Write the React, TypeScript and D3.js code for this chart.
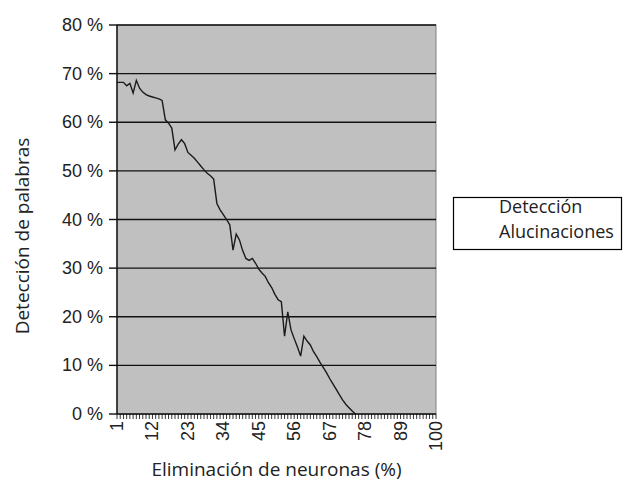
import * as d3 from "d3"

// x categories (percent of neurons removed) and the labelled ones
const categories: number[] = d3.range(1, 101)
const labeledCategories = [1, 12, 23, 34, 45, 56, 67, 78, 89, 100]

// word detection (%) for categories 1..75
const deteccion = [
  68.2, 68.2, 68.2, 67.5, 68.0, 66.0, 68.6, 67.0, 66.2, 65.7,
  65.4, 65.2, 65.0, 64.8, 64.5, 60.5, 59.8, 58.8, 54.3, 55.5,
  56.4, 55.6, 53.8, 53.2, 52.6, 51.8, 51.0, 50.2, 49.5, 49.0,
  48.3, 43.3, 42.0, 41.0, 40.0, 38.9, 33.7, 37.0, 35.8, 33.6,
  32.0, 31.6, 32.0, 31.0, 29.8, 29.0, 28.3, 27.0, 26.0, 24.6,
  23.5, 23.1, 16.0, 21.0, 17.3, 15.5, 13.8, 11.9, 16.0, 15.0,
  14.2, 12.8, 11.8, 10.6, 9.6, 8.5, 7.3, 6.2, 5.1, 4.0,
  2.9, 2.0, 1.3, 0.6, 0.0,
]

const yTicks = [0, 10, 20, 30, 40, 50, 60, 70, 80]
const legendItems = ["Detección", "Alucinaciones"]

const W = 629
const H = 497
const margin = { top: 25, right: 193, bottom: 83, left: 117 }

const tickFont = "'Liberation Sans', Arial, sans-serif"
const titleFont = "'Open Sans', sans-serif"

export default function App() {
  const x = d3
    .scalePoint<number>()
    .domain(categories)
    .range([margin.left, W - margin.right])
  const y = d3
    .scaleLinear()
    .domain([0, 80])
    .range([H - margin.bottom, margin.top])

  const line = d3
    .line<number>()
    .x((_, i) => x(categories[i]) ?? 0)
    .y((d) => y(d))

  const x0 = margin.left
  const x1 = W - margin.right
  const y0 = H - margin.bottom
  const y1 = margin.top

  return (
    <svg
      width={W}
      height={H}
      style={{ position: "absolute", left: 0, top: 0, background: "#fff" }}
    >
      {/* plot area */}
      <rect x={x0} y={y1} width={x1 - x0} height={y0 - y1} fill="#c0c0c0" stroke="#808080" />

      {/* gridlines */}
      {yTicks
        .filter((t) => t > 0)
        .map((t) => (
          <line key={t} x1={x0} x2={x1} y1={y(t)} y2={y(t)} stroke="#111" strokeWidth={1.4} />
        ))}

      {/* series */}
      <path d={line(deteccion) ?? ""} fill="none" stroke="#1a1a1a" strokeWidth={1.4} />

      {/* axes */}
      <line x1={x0} x2={x0} y1={y1} y2={y0} stroke="#111" strokeWidth={1.4} />
      <line x1={x0} x2={x1} y1={y0} y2={y0} stroke="#111" strokeWidth={1.4} />

      {/* y ticks + labels */}
      {yTicks.map((t) => (
        <g key={t}>
          <line x1={x0 - 8} x2={x0} y1={y(t)} y2={y(t)} stroke="#111" strokeWidth={1.4} />
          <text
            x={x0 - 14}
            y={y(t)}
            textAnchor="end"
            dominantBaseline="central"
            fontFamily={tickFont}
            fontSize={18}
            fill="#222"
          >
            {t} %
          </text>
        </g>
      ))}

      {/* x ticks */}
      {categories.map((c) => (
        <line
          key={c}
          x1={x(c)}
          x2={x(c)}
          y1={y0}
          y2={y0 + 5}
          stroke="#000"
          strokeWidth={0.8}
        />
      ))}
      {labeledCategories.map((c) => (
        <text
          key={c}
          transform={`translate(${x(c)}, ${y0 + 7}) rotate(-90)`}
          textAnchor="end"
          dominantBaseline="central"
          fontFamily={tickFont}
          fontSize={18}
          fill="#222"
        >
          {c}
        </text>
      ))}

      {/* axis titles */}
      <text
        x={(x0 + x1) / 2}
        y={476}
        textAnchor="middle"
        fontFamily={titleFont}
        fontSize={19}
        fill="#222"
      >
        Eliminación de neuronas (%)
      </text>
      <text
        transform={`translate(29, 236) rotate(-90)`}
        textAnchor="middle"
        fontFamily={titleFont}
        fontSize={19}
        fill="#222"
      >
        Detección de palabras
      </text>

      {/* legend */}
      <rect x={453.5} y={197.5} width={168} height={52} fill="#fff" stroke="#000" strokeWidth={1.2} />
      {legendItems.map((name, i) => (
        <text
          key={name}
          x={499}
          y={213 + i * 25}
          fontFamily={titleFont}
          fontSize={18}
          fill="#222"
        >
          {name}
        </text>
      ))}
    </svg>
  )
}
